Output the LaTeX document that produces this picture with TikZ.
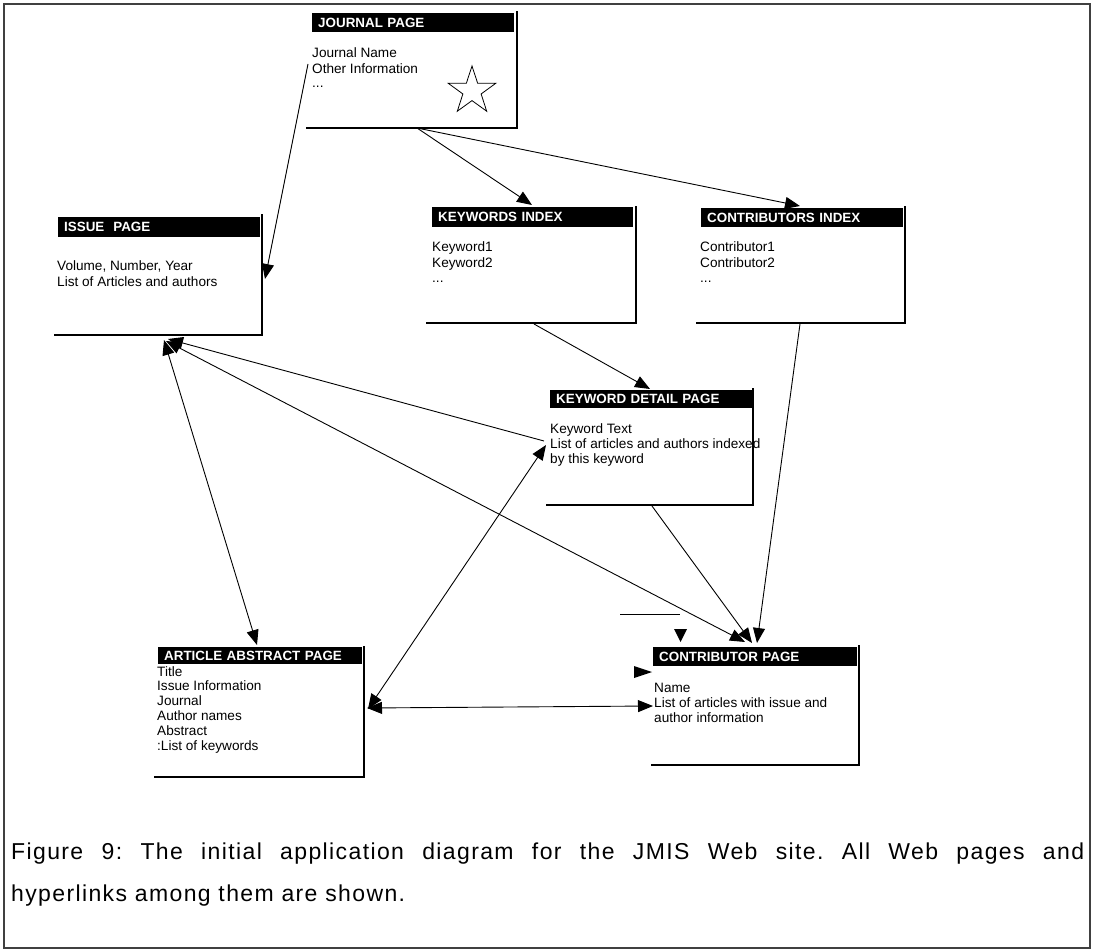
\documentclass[tikz,border=0pt]{standalone}
\usepackage{fontspec}
\setmainfont{Liberation Sans}
\usetikzlibrary{arrows.meta}

\begin{document}
\frenchspacing
\begin{tikzpicture}[x=1pt,y=-1pt,
  hdr/.style={fill=black, text=white, anchor=north west, inner xsep=6pt, inner ysep=0pt,
    font=\bfseries\fontsize{13.4}{15}\selectfont, align=left, text height=9.5pt, text depth=0pt},
  txt/.style={anchor=base west, inner sep=0pt, font=\fontsize{13.6}{16}\selectfont},
  edge/.style={line width=2.4pt, line cap=rect},
  tip/.tip={Triangle[length=15pt,width=12pt]},
  link/.style={line width=0.9pt, -tip},
  dlink/.style={line width=0.9pt, tip-tip},
  rlink/.style={line width=0.9pt, tip-},
  captext/.style={anchor=base west, inner sep=0pt, font=\fontsize{23}{27}\selectfont\addfontfeature{LetterSpace=6}}
]
\useasboundingbox (0,0) rectangle (1093,952);
\draw[line width=1.2pt, black!75] (4,4) rectangle (1090,948);

% --- Journal page
\node[hdr, text width=190pt, minimum height=19pt] (jp) at (312,13) {JOURNAL PAGE};
\draw[edge] (517,12) -- (517,128) -- (307,128);
\node[txt] (jp1) at (312,58) {Journal Name};
\node[txt] (jp2) at (312,74) {Other Information};
\node[txt] (jp3) at (312,88) {...};
\draw[line width=0.8pt, shift={(472,91)}] (-90:25) -- (-54:9.6) -- (-18:25) -- (18:9.6)
  -- (54:25) -- (90:9.6) -- (126:25) -- (162:9.6) -- (198:25) -- (234:9.6) -- cycle;
\coordinate (jpL) at (308,64);
\coordinate (jpB) at (417,128);

% --- Issue page
\node[hdr, text width=190pt, minimum height=20pt] (ip) at (58,217) {ISSUE\ \ PAGE};
\draw[edge] (262,215) -- (262,335) -- (55,335);
\node[txt] (ip1) at (57,271) {Volume, Number, Year};
\node[txt] (ip2) at (57,287) {List of Articles and authors};
\coordinate (ipR) at (265,279);
\coordinate (ipB1) at (164,340);
\coordinate (ipB2) at (168,339);
\coordinate (ipB3) at (166,341);

% --- Keywords index
\node[hdr, text width=189pt, minimum height=20pt] (ki) at (432,207) {KEYWORDS INDEX};
\draw[edge] (636,207) -- (636,323) -- (427,323);
\node[txt] (ki1) at (432,252) {Keyword1};
\node[txt] (ki2) at (432,268) {Keyword2};
\node[txt] (ki3) at (432,283) {...};
\coordinate (kiT) at (532,205);
\coordinate (kiB) at (534,324);

% --- Contributors index
\node[hdr, text width=190pt, minimum height=19pt] (ci) at (701,208) {CONTRIBUTORS INDEX};
\draw[edge] (905,207) -- (905,323) -- (697,323);
\node[txt] (ci1) at (700,252) {Contributor1};
\node[txt] (ci2) at (700,268) {Contributor2};
\node[txt] (ci3) at (700,283) {...};
\coordinate (ciT) at (800,206);
\coordinate (ciB) at (800,324);

% --- Keyword detail page
\node[hdr, text width=190pt, minimum height=18pt] (kd) at (550,390) {KEYWORD DETAIL PAGE};
\draw[edge] (753,389) -- (753,505) -- (547,505);
\node[txt] (kd1) at (550,433) {Keyword Text};
\node[txt] (kd2) at (550,448) {List of articles and authors indexed};
\node[txt] (kd3) at (550,463) {by this keyword};
\coordinate (kdT) at (650,389);
\coordinate (kdL1) at (544,441);
\coordinate (kdL2) at (546,445);
\coordinate (kdB) at (652,506);

% --- Article abstract page
\node[hdr, text width=192pt, minimum height=17pt] (aa) at (158,647) {ARTICLE ABSTRACT PAGE};
\draw[edge] (364,647) -- (364,777) -- (155,777);
\node[txt] (aa1) at (157,676) {Title};
\node[txt] (aa2) at (157,690.5) {Issue Information};
\node[txt] (aa3) at (157,705) {Journal};
\node[txt] (aa4) at (157,720) {Author names};
\node[txt] (aa5) at (157,735) {Abstract};
\node[txt] (aa6) at (157,750) {:List of keywords};
\coordinate (aaT) at (257,645);
\coordinate (aaR1) at (368,709);
\coordinate (aaR2) at (367,708);

% --- Contributor page
\node[hdr, text width=192pt, minimum height=19pt] (cp) at (653,647) {CONTRIBUTOR PAGE};
\draw[edge] (859,646) -- (859,765) -- (652,765);
\node[txt] (cp1) at (654,692) {Name};
\node[txt] (cp2) at (654,707) {List of articles with issue and};
\node[txt] (cp3) at (654,722) {author information};
\coordinate (cpT1) at (745,642);
\coordinate (cpT2) at (752,643);
\coordinate (cpT3) at (757,643);
\coordinate (cpL) at (653,706);

% loose marks above the contributor page
\draw[line width=0.9pt] (620,614) -- (680,614);
\fill (674,629) -- (687,629) -- (680.5,642) -- cycle;
\fill (634,666) -- (652,672) -- (634,678) -- cycle;

% --- hyperlinks
\draw[link] (jpL) -- (ipR);
\draw[link] (jpB) -- (kiT);
\draw[link] (jpB) -- (ciT);
\draw[link] (kiB) -- (kdT);
\draw[link] (ciB) -- (cpT3);
\draw[link] (kdB) -- (cpT2);
\draw[dlink] (ipB1) -- (aaT);
\draw[rlink] (ipB2) -- (kdL1);
\draw[dlink] (ipB3) -- (cpT1);
\draw[dlink] (aaR1) -- (kdL2);
\draw[dlink] (aaR2) -- (cpL);

% --- caption
\node[captext] (c1) at (11,859) {\makebox[1073pt][s]{Figure 9: The initial application diagram for the JMIS Web site. All Web pages and}};
\node[captext] (c2) at (11,901) {hyperlinks among them are shown.};
\end{tikzpicture}
\end{document}
